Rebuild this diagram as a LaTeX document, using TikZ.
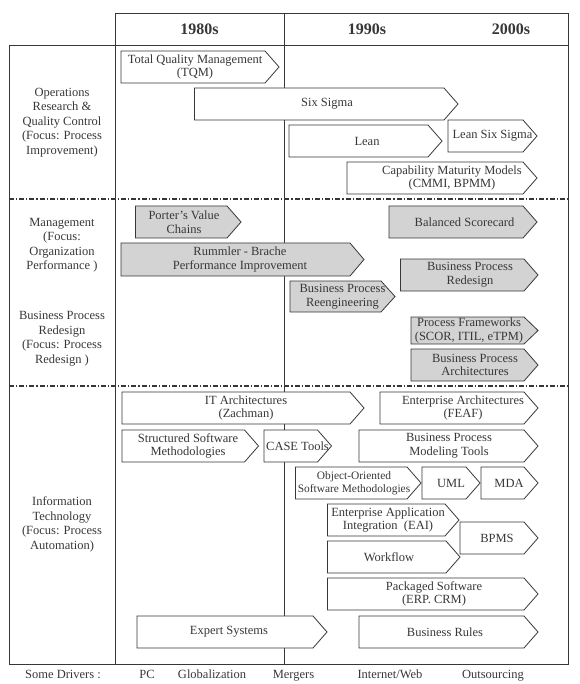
\documentclass[tikz,border=0pt]{standalone}
\usepackage{fontspec}
\setmainfont{Liberation Serif}
\definecolor{ink}{RGB}{55,55,55}
\definecolor{mgmt}{RGB}{211,211,211}

% trend box: fill, name, left x, tip x, top y, bottom y, text x, text
\newcommand\trend[8][white]{%
  \draw[trendbox,fill=#1] (#3,#5) -- ({#4-14},#5) -- (#4,{(#5+#6)/2}) -- ({#4-14},#6) -- (#3,#6) -- cycle;
  \node[trendtext] (#2) at (#7,{(#5+#6)/2}) {#8};}

\begin{document}
\begin{tikzpicture}[x=1pt,y=-1pt,
    font=\fontsize{12.5}{13.7}\selectfont,
    grid/.style={draw=ink,line width=0.8pt},
    sep/.style={draw=ink,line width=1.6pt,dash pattern=on 5pt off 2pt on 1.2pt off 2pt},
    trendbox/.style={draw=ink,line width=0.8pt},
    trendtext/.style={align=center,inner sep=0pt,text=ink},
    rowlabel/.style={align=center,inner sep=0pt,text=ink,font=\fontsize{12.5}{14.5}\selectfont},
    era/.style={text=ink,font=\bfseries\fontsize{16}{18}\selectfont},
    driver/.style={text=ink,anchor=base}]
    \useasboundingbox (0,0) rectangle (579,684);

    % frame
    \draw[grid] (115,13) rectangle (568,45);
    \draw[grid] (9,45) rectangle (568,664);
    \draw[grid] (115,45) -- (115,664);
    \draw[grid] (284,13) -- (284,664);
    \draw[sep] (9,199) -- (568,199);
    \draw[sep] (9,386) -- (568,386);

    \node[era] (y80) at (199.5,29) {1980s};
    \node[era] (y90) at (367,29) {1990s};
    \node[era] (y00) at (511,29) {2000s};

    \node[rowlabel] (opsrow) at (62,122.5) {Operations\\Research \&\\Quality Control\\(Focus: Process\\Improvement)};
    \node[rowlabel] (mgmtrow) at (62,245) {Management\\(Focus:\\Organization\\Performance )};
    \node[rowlabel] (bprrow) at (62,338.5) {Business Process\\Redesign\\(Focus: Process\\Redesign )};
    \node[rowlabel] (itrow) at (62,524.5) {Information\\Technology\\(Focus: Process\\Automation)};

    % operations research
    \trend{tqm}{121}{279}{51}{83}{195}{Total Quality Management\\(TQM)}
    \trend{sixsigma}{194.5}{458}{88}{120}{327}{Six Sigma}
    \trend{lean}{289}{442}{125}{157}{367}{Lean}
    \trend{leansix}{448}{537}{120}{152}{492.5}{Lean Six Sigma}
    \trend{cmm}{347}{537}{162}{194}{452}{Capability Maturity Models\\(CMMI, BPMM)}

    % management and process redesign
    \trend[mgmt]{porter}{135.5}{241}{206}{238}{184}{Porter's Value\\Chains}
    \trend[mgmt]{bsc}{389}{537}{206}{238}{464.5}{Balanced Scorecard}
    \trend[mgmt]{rummler}{121}{364}{243}{276}{240}{Rummler - Brache\\Performance Improvement}
    \trend[mgmt]{bpredesign}{400.5}{538}{259}{291}{470}{Business Process\\Redesign}
    \trend[mgmt]{bpreeng}{290}{395}{281}{312}{342.5}{Business Process\\Reengineering}
    \trend[mgmt]{frameworks}{411}{538}{317}{344}{469}{Process Frameworks\\(SCOR, ITIL, eTPM)}
    \trend[mgmt]{bparch}{411}{538}{349}{381}{475}{Business Process\\Architectures}

    % information technology
    \trend{itarch}{122}{364}{392}{424}{246}{IT Architectures\\(Zachman)}
    \trend{entarch}{380}{538}{392}{424}{463}{Enterprise Architectures\\(FEAF)}
    \trend{structsw}{122}{258.5}{430}{462}{188}{Structured Software\\Methodologies}
    \trend{casetools}{264}{331.5}{430}{462}{297.5}{CASE Tools}
    \trend{bpmodel}{359}{538}{430}{462}{449}{Business Process\\Modeling Tools}
    \begin{scope}[trendtext/.append style={font=\fontsize{11.4}{13.2}\selectfont}]
      \trend{oosw}{295.5}{421}{467}{499}{354}{Object-Oriented\\Software Methodologies}
    \end{scope}
    \trend{uml}{422}{480}{467}{499}{451}{UML}
    \trend{mda}{481}{538}{467}{499}{509}{MDA}
    \trend{eai}{327.5}{459}{504}{536}{388}{Enterprise Application\\Integration~ (EAI)}
    \trend{bpms}{460}{538}{522}{554}{497}{BPMS}
    \trend{workflow}{327.5}{460}{541}{573}{389}{Workflow}
    \trend{packaged}{327.5}{538}{578}{610}{434}{Packaged Software\\(ERP. CRM)}
    \trend{expert}{137}{327}{616}{648}{229}{Expert Systems}
    \trend{rules}{359}{538}{616}{648}{445}{Business Rules}

    % drivers
    \node[driver] (drivers) at (63,678) {Some Drivers :};
    \node[driver] (pc) at (147,678) {PC};
    \node[driver] (global) at (212,678) {Globalization};
    \node[driver] (mergers) at (293.5,678) {Mergers};
    \node[driver] (web) at (390,678) {Internet/Web};
    \node[driver] (outsrc) at (493,678) {Outsourcing};
\end{tikzpicture}
\end{document}
